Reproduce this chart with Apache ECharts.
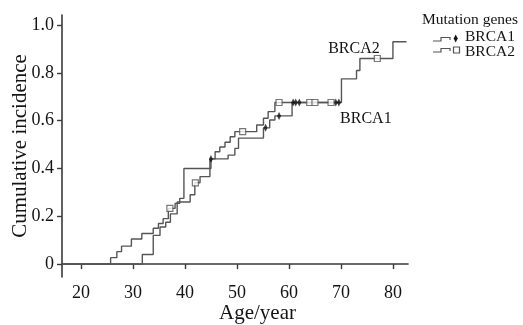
<!DOCTYPE html>
<html>
<head>
<meta charset="utf-8">
<script src="https://cdn.jsdelivr.net/npm/echarts@6/dist/echarts.min.js"></script>
<style>
  html, body { margin: 0; padding: 0; background: #fff; }
  #chart { width: 523px; height: 325px; }
</style>
</head>
<body>
<div id="chart"></div>
<script>
// Step curves: age at which the cumulative incidence changes, and the new value
const brca1Ages = [16.4, 25.7, 26.9, 27.8, 29.7, 31.7, 33.9, 34.9, 35.8, 36.8, 38.1, 39.0, 39.8, 45.0, 48.3, 49.6, 50.3, 55.1, 56.3, 57.3, 60.6, 70.0];
const brca1Vals = [0, 0.027, 0.052, 0.075, 0.105, 0.128, 0.15, 0.17, 0.19, 0.233, 0.254, 0.275, 0.40, 0.44, 0.456, 0.484, 0.527, 0.57, 0.603, 0.62, 0.676, 0.676];

const brca2Ages = [16.4, 31.8, 33.9, 35.2, 36.3, 37.2, 38.5, 41.0, 41.9, 42.9, 44.8, 45.8, 46.7, 47.7, 48.7, 49.6, 53.8, 55.1, 56.0, 57.3, 70.1, 73.0, 73.65, 80.0, 82.6];
const brca2Vals = [0, 0.04, 0.12, 0.155, 0.175, 0.21, 0.26, 0.29, 0.34, 0.366, 0.44, 0.47, 0.49, 0.51, 0.533, 0.554, 0.582, 0.61, 0.638, 0.676, 0.775, 0.81, 0.86, 0.93, 0.93];

// Censored observations
const brca1CensorAges = [45.0, 55.5, 58.1, 60.8, 61.3, 62.0, 69.0, 69.6];
const brca1CensorVals = [0.44, 0.57, 0.62, 0.676, 0.676, 0.676, 0.676, 0.676];
const brca2CensorAges = [37.1, 42.0, 51.1, 58.1, 64.0, 65.0, 68.1, 77.0];
const brca2CensorVals = [0.233, 0.34, 0.554, 0.676, 0.676, 0.676, 0.676, 0.86];

const xTicks = [20, 30, 40, 50, 60, 70, 80];
const yTicks = [0, 0.2, 0.4, 0.6, 0.8, 1.0];

const zip = (xs, ys) => xs.map((x, i) => [x, ys[i]]);

const FONT = "Liberation Serif";
const TEXT = "#141414";
const LINE = "#555";
const AXIS = "#3a3a3a";

const chart = echarts.init(document.getElementById("chart"));

const option = {
  animation: false,
  grid: { left: 62, right: 115, top: 15, bottom: 48, outerBoundsMode: "none" },
  xAxis: {
    type: "value",
    min: 16.35,
    max: 82.9,
    name: "Age/year",
    nameLocation: "middle",
    nameGap: 26,
    nameMoveOverlap: false,
    nameTextStyle: { fontFamily: FONT, fontSize: 21, color: TEXT, padding: [0, 0, 0, 45] },
    axisLine: { show: true, lineStyle: { color: AXIS, width: 1.6 } },
    axisTick: { show: true, length: 5, lineStyle: { color: AXIS, width: 1.4 }, customValues: xTicks },
    axisLabel: { fontFamily: FONT, fontSize: 18, color: TEXT, margin: 7, customValues: xTicks },
    splitLine: { show: false },
  },
  yAxis: {
    type: "value",
    min: -0.054,
    max: 1.042,
    name: "Cumulative incidence",
    nameLocation: "middle",
    nameGap: 31,
    nameMoveOverlap: false,
    nameTextStyle: { fontFamily: FONT, fontSize: 21, color: TEXT },
    axisLine: { show: true, lineStyle: { color: AXIS, width: 1.6 } },
    axisTick: { show: true, length: 5, lineStyle: { color: AXIS, width: 1.4 }, customValues: yTicks },
    axisLabel: {
      fontFamily: FONT,
      fontSize: 18,
      color: TEXT,
      margin: 8,
      customValues: yTicks,
      formatter: (v) => (v === 0 ? "0" : v.toFixed(1)),
    },
    splitLine: { show: false },
  },
  series: [
    {
      name: "BRCA1",
      type: "line",
      step: "end",
      showSymbol: false,
      lineStyle: { color: LINE, width: 1.4 },
      data: zip(brca1Ages, brca1Vals),
      markPoint: {
        symbol: "circle",
        symbolSize: 0,
        label: { show: true, position: "inside", fontFamily: FONT, fontSize: 16, color: TEXT, formatter: "BRCA1" },
        data: [{ coord: [74.8, 0.607] }],
      },
      z: 2,
    },
    {
      name: "BRCA2",
      type: "line",
      step: "end",
      showSymbol: false,
      lineStyle: { color: LINE, width: 1.4 },
      data: zip(brca2Ages, brca2Vals),
      markPoint: {
        symbol: "circle",
        symbolSize: 0,
        label: { show: true, position: "inside", fontFamily: FONT, fontSize: 16, color: TEXT, formatter: "BRCA2" },
        data: [{ coord: [72.5, 0.9] }],
      },
      z: 2,
    },
    {
      name: "BRCA1 censored",
      type: "scatter",
      symbol: "diamond",
      symbolSize: [4, 8],
      itemStyle: { color: "#111" },
      data: zip(brca1CensorAges, brca1CensorVals),
      z: 3,
    },
    {
      name: "BRCA2 censored",
      type: "scatter",
      symbol: "rect",
      symbolSize: 6,
      itemStyle: { color: "#fff", borderColor: LINE, borderWidth: 1.2 },
      data: zip(brca2CensorAges, brca2CensorVals),
      z: 3,
    },
  ],
  // legend box drawn by hand to get the step-line + censor-mark icon
  graphic: [
    { type: "text", x: 422, y: 20, style: { text: "Mutation genes", font: `15.5px "${FONT}"`, fill: TEXT, verticalAlign: "middle" } },
    { type: "polyline", shape: { points: [[433, 41], [441, 41], [441, 37.5], [450, 37.5], [450, 40]] }, style: { stroke: LINE, lineWidth: 1.2, fill: null } },
    { type: "polygon", shape: { points: [[455.7, 34.5], [457.7, 38.5], [455.7, 42.5], [453.7, 38.5]] }, style: { fill: "#111" } },
    { type: "text", x: 465, y: 36.5, style: { text: "BRCA1", font: `15.5px "${FONT}"`, fill: TEXT, verticalAlign: "middle" } },
    { type: "polyline", shape: { points: [[433, 52], [441, 52], [441, 48.5], [450, 48.5], [450, 51]] }, style: { stroke: LINE, lineWidth: 1.2, fill: null } },
    { type: "rect", shape: { x: 453.5, y: 47, width: 6, height: 6 }, style: { fill: "#fff", stroke: LINE, lineWidth: 1.2 } },
    { type: "text", x: 465, y: 51.5, style: { text: "BRCA2", font: `15.5px "${FONT}"`, fill: TEXT, verticalAlign: "middle" } },
  ],
};

chart.setOption(option);
</script>
</body>
</html>
